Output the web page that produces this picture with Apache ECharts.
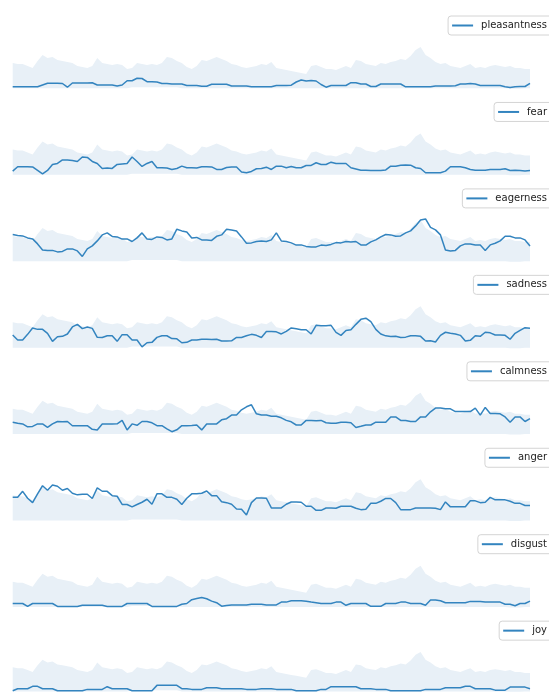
<!DOCTYPE html>
<html>
<head>
<meta charset="utf-8">
<script src="https://cdn.jsdelivr.net/npm/echarts@6/dist/echarts.min.js"></script>
<style>
html,body{margin:0;padding:0;background:#fff;}
#chart{width:549px;height:693px;}
</style>
</head>
<body>
<div id="chart"></div>
<script>
// Emotion panels, top to bottom
const emotions = ['pleasantness', 'fear', 'eagerness', 'sadness', 'calmness', 'anger', 'disgust', 'joy'];

// Per-frame emotion scores (105 frames)
const pleasantness = [1.3,1.3,1.3,1.3,1.3,1.3, 3,4.7,4.7,4.7,4.5, 0.8, 5,5,5,5,5.2, 3,3,3,3,2,3,
  7.3,7.3,9.7,9.5,6.3,6.3,6, 4.5,4.5,4,4,4,2.5,2.5,2.5,1.8,1.8, 3.7,3.7,3.7,3.7,2,2,2,2,
  1.2,1.2,1.2,1.2,1.2, 2.5,2.5,2.5,2.8, 6,8,7,7.5,7,3.5,0.8, 2.5,2.5,2.5,2.5, 5.3,5.3,4,4,1.5,1.5,
  4,4,4,4,4, 1.2,1.2,1.2,1.2,1.2,1.2, 2,2,2,2,2.3, 4,4,4.5,4, 2.5,2.5,2.5,2.5,2.5, 1.3,0.6,1.3, 1.5,1.5,4.7];
const fear = [3.3, 7.7,7.7,7.7,7.5, 4,0.5,4, 10,11, 14.5,14.5,14, 13,17.5,17,13, 11,6,6.5,6,
  10,10.5,11, 17.5,13,8,11,13, 6.7,6.7,6.5, 5,6,8.3, 6.7,6.7,6.5, 7.7,7.7,7.5, 5,5, 7,7.5,7.5,
  2.5,1.7,3, 5.7,6, 7.3,5, 8.3,8.3, 6.7,8, 6.7,6.7, 9,9, 11.7,10,10, 12.3, 11,11,11, 6.7,5.5,
  4.3,4.3, 4,4,4,4.5, 8.3,8.3, 9.3,9.5,9.3, 6.7,6, 1.7,1.7,1.7,1.7, 3.3, 7.7,7.7,7.7, 6.7,5,
  4.3,4.3,4.3, 5,5,5, 5.7, 4,4.3,4,3.5,4];
const eagerness = [26.4,25.5,25,23,22,17,11,10.5,10.5,9,9.5,12,12,10,4.5,12,15,20,26,28,
  24.5,24,21.8,22,19.4,23,28,22,21.5,24,23.5,21,22,31.7,30,29,23,23.5,21,21,
  20.5,24.6,26,31.7,31,30,24,17.6,18,19.4,20,19.4,21,28,20,19.4,18,15.8,16,14.5,
  14,14,15.8,15.5,16.5,18.3,18,19.4,19,19.4,16,15.8,19,21,24,26.4,26,24.6,25,28,
  30,35,41,42,33.5,31,26,11,10,10.5,15,17,17,16,15.8,10.5,16,17.6,20,24.6,
  24.6,23,23,21,15];
const sadness = [12.3,7.4,7.4,13,19.4,18,18,14,6,10.6,11,13.4,20.4,23,18.7,20.4,19,10,9.9,11.6,
  11.6,6,12.7,12.7,7.4,7.4,0.5,4.6,5,10,11.6,11.6,8.8,8.5,4.6,5,7.4,7.4,8.1,8.1,
  7.8,8.1,6.3,6.3,6.5,9.9,9.9,11.6,13,12,9.9,15.8,15.8,15.5,13.4,16,19.4,18.5,17.6,17.6,
  13.4,22,21.5,21.5,22,15,12,16.9,17.5,23,28,29.2,25.7,18,13.4,11.5,10.9,11,9.9,10.2,
  11.6,11.6,11,6.3,6.5,5.3,12,15.1,14,13.4,12,6.3,7,11.6,11,15.1,14.5,12.3,12.3,12,
  8.1,14,16.9,19.7,19];
const calmness = [11.6,10.5,9.9,7,7.4,9.9,9.9,6.5,9.9,12.3,12,12.3,8.1,8.1,8.1,8.1,4.5,3.9,9.9,9.9,
  9.9,10,13.4,3.9,9.9,8.5,12.3,12.3,11,8.1,8.1,5,2.1,4,8.1,8.1,8.4,8.8,3.9,9.9,
  9.9,9.9,14,15.1,18.7,18.7,24,27,29,20,18.7,18.7,17.6,17.6,16,13.4,12,8.8,8.8,13.4,
  13.4,13,13.4,11,10.6,10.6,11.6,11.6,11,6.3,7.5,8.8,8.8,11.6,11.6,11.6,16.9,16.9,13.4,13.4,
  12.3,12.3,16.9,16.9,22,25.7,25.7,25,25,22.2,22.2,22.2,22.2,25.7,18.7,26.4,20.4,20.4,20,16.9,
  11.6,16.9,16.9,12.3,15.1];
const anger = [22.9,22.9,28.9,22,17.6,26.4,34.5,30,35.2,34,30,31.7,27,25.4,26,26,21.8,32.4,29,28.9,
  24.6,24,15.8,15.8,13.4,15.8,18,21,16,26.4,26.4,22.9,22.9,21,15.8,22,26.4,26.4,27,29.2,
  24.6,24.6,18.5,17.6,16,11.3,11,5.3,17.6,22.2,22.2,22,12.3,12.3,12.3,16,18.3,18.3,18,14,
  14,9.9,9.9,12.3,12.3,12,14,14,14,12,10.6,11,16.9,16.9,19,21.8,21.8,17.6,10.6,10.6,
  10.6,12.3,12.3,12.3,12.3,12,10.6,18.3,13.4,13.4,13.4,13.4,19.4,19.4,17.6,18,22.9,20.4,20.4,20.4,
  19,16.9,16.9,14.8,14.8];
const disgust = [3.2,3.2,3.2,0.3,3.2,3.2,3.2,3.2,3.2,0.3,0.3,0.3,0.3,0.3,1.4,1.4,1.4,1.4,1.4,0.3,
  0.3,0.3,0.3,3.2,3.2,3.2,3.2,3.2,0.3,0.3,0.3,0.3,0.3,0.3,2.5,3.2,7,8.1,9.2,8,
  5.6,4,0.5,1.2,1.8,1.8,1.8,1.8,2.5,2.5,2.5,1.8,1.8,1.8,4.6,4.6,6,6,6,5.5,
  4.6,4,3.2,3.2,3.2,4.6,4.6,1.4,3.2,3.2,3.2,3.2,0.4,0.4,0.4,3.2,3.2,3.2,4.6,4.6,
  3.2,3.2,3.2,1.4,6.7,6.7,6,3.9,3.9,3.9,3.9,3.9,5.3,5.3,5.3,4.6,4.6,4.6,4.6,2.5,
  2.5,1,3.2,3.2,5.6];
const joy = [0.3,2.5,2.5,2.5,5,5,2.5,2.5,2.5,0.3,0.3,0.3,0.3,0.3,0.3,1.8,1.8,1.8,1.8,4.6,
  2.5,2.5,2.5,2.5,0.3,0.3,0.3,0.3,0.3,6,6,6,6,6,2.5,2.5,1.8,1.8,1.8,3.5,
  3.5,3.5,2.5,2.5,2.5,2.5,2.5,1.8,1.8,1.8,2.5,2.5,2.5,1.8,1.8,1.8,1.8,0.3,0.3,0.3,
  0.3,0.3,1.8,1.8,4.6,4.6,4.6,4.6,4.6,4.6,2.5,2.5,2.5,1.8,1.8,1.8,0.3,0.3,0.3,0.3,
  0.3,0.3,0.3,1.8,1.8,1.8,1.8,3.5,3.5,3.5,3.5,5,5,2.5,2.5,2.5,2.5,1,1,1,
  4.2,4.2,4.2,4.2,2.5];

// Shared envelope drawn behind every panel
const bandUpper = [25,24,24,22,20,27,33,30,31,28,27,26,25,22,21,20,22,30,25,24,
  23,24,23,19,20,25,24,23,24,23,25,31,30,27,25,21,19,22,28,27,
  29,31,29,27,24,23,21,20,21,22,24,23,26,20,19,18,17,16,15,14,
  22,23,21,19,19,18,20,22,20,28,27,24,23,22,25,24,26,27,29,28,
  32,38,41,33,30,26,24,25,22,21,20,22,24,20,21,20,22,23,22,21,
  22,20,20,19,19];
const bandLower = [-0.3,-0.3,-0.3,-0.3,-0.3,-0.3,-0.3,-0.3,-0.3,-0.3,-0.3,-0.3,-0.3,-0.3,-0.3,-0.3,-0.3,-0.3,-0.3,-0.3,
  -0.3,-0.3,-0.3,-0.3,0.8,0.8,0.8,0.8,0.8,0.8,0.8,0.8,0.8,0.8,-0.3,-0.3,-0.3,-0.3,-0.3,-0.3,
  -0.3,-0.3,-0.3,-0.3,-0.3,-0.3,-0.3,-0.3,-0.3,-0.3,-0.3,-0.3,-0.3,-0.3,-0.3,-0.3,-0.3,-0.3,-0.3,-0.3,
  -0.3,-0.3,-0.3,-0.3,-0.3,-0.3,-0.3,-0.3,-0.3,-0.3,-0.3,-0.3,-0.3,-0.3,-0.3,-0.3,-0.3,-0.3,-0.3,-0.3,
  -0.3,-0.3,-0.3,-0.3,-0.3,-0.3,-0.3,-0.3,-0.3,-0.3,-0.3,-0.3,-0.3,-0.3,-0.3,-0.3,-0.3,-0.3,-0.3,-0.3,
  -0.8,-0.8,-0.8,-0.3,-0.3];

const seriesByName = { pleasantness, fear, eagerness, sadness, calmness, anger, disgust, joy };
const frames = bandUpper.map((_, i) => String(i));

const LINE_COLOR = '#3384bf';
const BAND_COLOR = '#e8f0f7';
const PANEL_STEP = 86.45;
const baseline = k => 88 + PANEL_STEP * k;

const grid = [], xAxis = [], yAxis = [], series = [], legend = [];
emotions.forEach((name, k) => {
  grid.push({ left: 12.7, right: 19, top: baseline(k) - 44, height: 46 });
  xAxis.push({ type: 'category', gridIndex: k, data: frames, boundaryGap: false, show: false });
  yAxis.push({ type: 'value', gridIndex: k, min: -2, max: 44, show: false });
  series.push({
    type: 'line', xAxisIndex: k, yAxisIndex: k, data: bandLower,
    stack: 'band' + k, stackStrategy: 'all', symbol: 'none', silent: true,
    lineStyle: { opacity: 0 }, z: 1
  });
  series.push({
    type: 'line', xAxisIndex: k, yAxisIndex: k,
    data: bandUpper.map((u, i) => +(u - bandLower[i]).toFixed(2)),
    stack: 'band' + k, stackStrategy: 'all', symbol: 'none', silent: true,
    lineStyle: { opacity: 0 }, areaStyle: { color: BAND_COLOR, opacity: 1 }, z: 1
  });
  series.push({
    type: 'line', name: name, xAxisIndex: k, yAxisIndex: k, data: seriesByName[name],
    symbol: 'none', lineStyle: { color: LINE_COLOR, width: 1.5 }, itemStyle: { color: LINE_COLOR }, z: 3
  });
  legend.push({
    data: [name], right: -3, top: baseline(k) - 72,
    orient: 'horizontal', icon: 'rect', itemWidth: 21, itemHeight: 2,
    padding: [3, 5, 3, 4], borderColor: '#d4d4d4', borderWidth: 1, borderRadius: 3,
    backgroundColor: '#fff', selectedMode: false,
    textStyle: { fontFamily: 'DejaVu Sans', fontSize: 10, color: '#222', padding: [0, 0, 0, 3], lineHeight: 13 }
  });
});

const chart = echarts.init(document.getElementById('chart'), null, { renderer: 'canvas' });
chart.setOption({
  animation: false,
  backgroundColor: '#fff',
  grid, xAxis, yAxis, series, legend
});
</script>
</body>
</html>
